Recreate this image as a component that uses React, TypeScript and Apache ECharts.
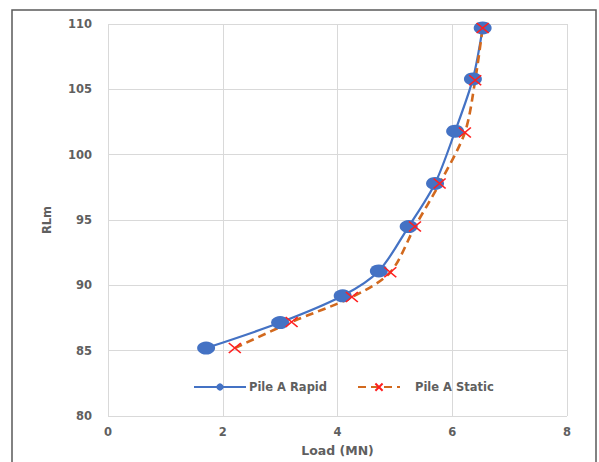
import React, { useEffect, useRef } from "react";
import * as echarts from "echarts";

const rapidLoad = [1.71, 3.0, 4.09, 4.72, 5.24, 5.7, 6.05, 6.36, 6.53];
const rapidRL = [85.2, 87.15, 89.2, 91.1, 94.5, 97.8, 101.8, 105.8, 109.7];
const staticLoad = [2.21, 3.2, 4.25, 4.92, 5.35, 5.78, 6.22, 6.4, 6.53];
const staticRL = [85.2, 87.2, 89.1, 91.0, 94.5, 97.8, 101.7, 105.7, 109.7];

const xTicks = { min: 0, max: 8, interval: 2 };
const yTicks = { min: 80, max: 110, interval: 5 };

const FONT = "'DejaVu Sans', Verdana, sans-serif";
const TXT = "#5f5f5f";

export default function App() {
  const ref = useRef<HTMLDivElement>(null);
  useEffect(() => {
    if (!ref.current) return;
    const chart = echarts.init(ref.current, undefined, { renderer: "svg" });
    const legendText = { color: TXT, fontSize: 11.5, fontFamily: FONT, fontWeight: "bold" };
    chart.setOption({
      animation: false,
      backgroundColor: "#ffffff",
      graphic: [
        {
          type: "rect",
          shape: { x: 12, y: 10, width: 584, height: 470 },
          style: { fill: "none", stroke: "#5a5a5a", lineWidth: 1.5 },
          silent: true,
        },
      ],
      grid: { left: 108, right: 32, top: 24, bottom: 46 },
      legend: [
        {
          left: 188,
          top: 376,
          itemWidth: 52,
          itemHeight: 9,
          textStyle: { ...legendText, padding: [0, 0, 0, -2] },
          data: ["Pile A Rapid"],
        },
        {
          left: 352,
          top: 376,
          itemWidth: 42,
          itemHeight: 9,
          itemGap: 0,
          textStyle: { ...legendText, padding: [0, 0, 0, 10] },
          data: ["Pile A Static"],
        },
      ],
      xAxis: {
        type: "value",
        ...xTicks,
        name: "Load (MN)",
        nameLocation: "middle",
        nameGap: 28,
        nameTextStyle: { color: TXT, fontSize: 12.5, fontFamily: FONT, fontWeight: "bold" },
        axisLine: { show: false },
        axisTick: { show: false },
        axisLabel: { color: TXT, fontSize: 11.5, fontFamily: FONT, fontWeight: "bold", margin: 10 },
        splitLine: { show: true, lineStyle: { color: "#d9d9d9", width: 1 } },
      },
      yAxis: {
        type: "value",
        ...yTicks,
        name: "RLm",
        nameLocation: "middle",
        nameGap: 55,
        nameRotate: 90,
        nameTextStyle: { color: TXT, fontSize: 11.5, fontFamily: FONT, fontWeight: "bold" },
        axisLine: { show: false },
        axisTick: { show: false },
        axisLabel: { color: TXT, fontSize: 11.5, fontFamily: FONT, fontWeight: "bold", margin: 16 },
        splitLine: { show: true, lineStyle: { color: "#d9d9d9", width: 1 } },
      },
      series: [
        {
          name: "Pile A Rapid",
          type: "line",
          smooth: 0.3,
          clip: false,
          data: rapidLoad.map((x, i) => [x, rapidRL[i]]),
          symbol: "circle",
          symbolSize: [18, 13],
          lineStyle: { color: "#4472C4", width: 2.2 },
          itemStyle: { color: "#4472C4" },
        },
        {
          name: "Pile A Static",
          type: "line",
          smooth: 0.3,
          clip: false,
          data: staticLoad.map((x, i) => [x, staticRL[i]]),
          symbol: "path://M0,0L10,10M10,0L0,10",
          symbolSize: [12, 10],
          lineStyle: { color: "#D2691E", width: 2.6, type: [8, 5] },
          itemStyle: { color: "none", borderColor: "#FF2020", borderWidth: 1.5 },
        },
      ],
    });
    return () => chart.dispose();
  }, []);
  return <div ref={ref} style={{ width: 599, height: 462, position: "absolute", left: 0, top: 0 }} />;
}
